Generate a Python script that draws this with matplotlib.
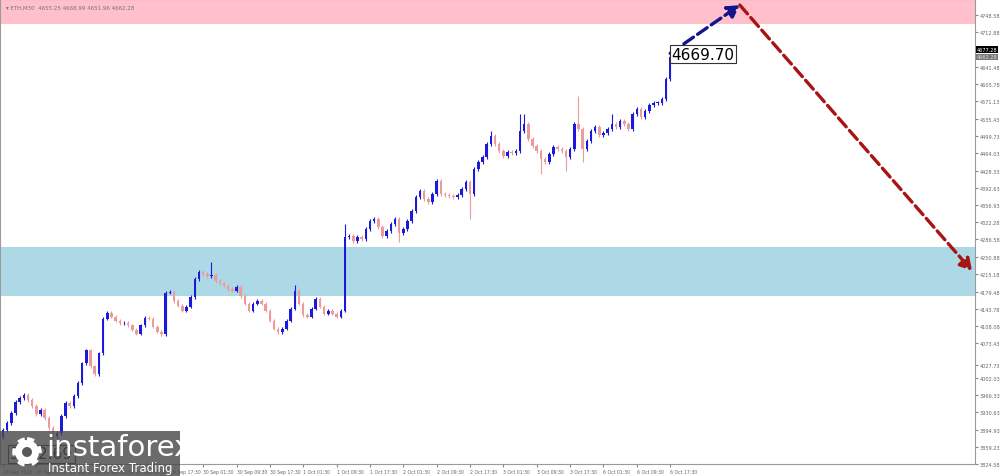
import matplotlib
matplotlib.use('Agg')
from matplotlib import pyplot as plt
from matplotlib.patches import Rectangle, Circle

# ETH M30 chart, hourly-ish closes
closes = [3893.8, 3908.2, 3928.7, 3951.3, 3959.6, 3965.7, 3955.4, 3943.1, 3926.7, 3934.9,
          3918.5, 3897.9, 3881.5, 3887.6, 3922.6, 3949.3, 3943.1, 3963.7, 3990.4, 4031.4,
          4058.2, 4025.3, 4008.9, 4052.0, 4123.9, 4136.3, 4128.0, 4119.8, 4113.7, 4115.7,
          4109.6, 4101.3, 4093.1, 4109.6, 4126.0, 4123.9, 4107.5, 4097.2, 4091.1, 4177.4,
          4179.4, 4160.9, 4150.7, 4140.4, 4148.6, 4169.1, 4206.1, 4220.5, 4216.4, 4212.3,
          4214.3, 4202.0, 4197.9, 4191.8, 4185.6, 4181.5, 4189.7, 4171.2, 4154.8, 4140.4,
          4154.8, 4160.9, 4154.8, 4140.4, 4119.8, 4103.4, 4095.2, 4103.4, 4119.8, 4144.5,
          4181.5, 4154.8, 4132.1, 4128.0, 4144.5, 4165.0, 4148.6, 4134.2, 4140.4, 4134.2,
          4128.0, 4140.4, 4292.4, 4294.5, 4284.2, 4292.4, 4288.3, 4308.9, 4325.3, 4329.4,
          4313.0, 4294.5, 4304.8, 4319.1, 4329.4, 4300.6, 4308.9, 4325.3, 4345.8, 4374.6,
          4387.0, 4370.5, 4364.4, 4380.8, 4407.7, 4380.8, 4378.7, 4376.7, 4374.6, 4378.7,
          4391.0, 4405.4, 4380.8, 4432.1, 4446.5, 4456.8, 4483.5, 4500.0, 4483.5, 4469.1,
          4458.8, 4467.1, 4465.0, 4469.1, 4510.2, 4524.6, 4493.8, 4479.4, 4469.1, 4452.7,
          4446.5, 4463.0, 4477.4, 4473.3, 4469.1, 4456.8, 4473.3, 4524.6, 4514.3, 4473.3,
          4489.7, 4510.2, 4518.4, 4502.0, 4506.1, 4514.3, 4524.6, 4518.4, 4530.8, 4524.6,
          4514.3, 4545.2, 4555.4, 4539.0, 4551.3, 4563.6, 4567.8, 4567.8, 4576.0, 4617.1,
          4662.3]
first_open = 3880.0

# long wicks seen on the chart (bar index: price)
spike_highs = {50: 4241, 70: 4192, 82: 4318, 117: 4510, 124: 4545, 125: 4545,
               138: 4582, 146: 4545, 160: 4672}
spike_lows = {12: 3867, 95: 4282, 112: 4329, 129: 4422, 135: 4428, 139: 4446}

time_labels = ['26 Sep 2025', '26 Sep 09:30', '26 Sep 17:30', '29 Sep 01:30', '29 Sep 09:30',
               '29 Sep 17:30', '30 Sep 01:30', '30 Sep 09:30', '30 Sep 17:30', '1 Oct 01:30',
               '1 Oct 09:30', '1 Oct 17:30', '2 Oct 01:30', '2 Oct 09:30', '2 Oct 17:30',
               '3 Oct 01:30', '3 Oct 09:30', '3 Oct 17:30', '6 Oct 01:30', '6 Oct 09:30',
               '6 Oct 17:30']

price_ticks = [4748.58, 4712.88, 4641.48, 4605.78, 4571.13, 4535.43, 4499.73, 4464.03,
               4428.33, 4392.63, 4356.93, 4322.28, 4286.58, 4250.88, 4215.18, 4179.48,
               4143.78, 4108.08, 4073.43, 4027.73, 4002.03, 3966.33, 3930.63, 3894.93,
               3859.23, 3824.58]

resistance_zone = (4730, 4790)
support_zone = (4171, 4272)
wave_start = (160, 4669.70)
wave_top = (176.7, 4769)
wave_target = (232.4, 4222)
ask_price = 4677.28
bid_price = 4662.28

UP = '#1a1adb'
DOWN = '#ef9a9a'

fig = plt.figure(figsize=(10, 4.77), dpi=100)
ax = fig.add_axes([0, 12/477, 0.975, 465/477])
ax.set_xlim(-0.72, 233.1)
ax.set_ylim(3826.0, 4781.45)

ax.axhspan(resistance_zone[0], resistance_zone[1], color='#ffc0cb', zorder=0, lw=0)
ax.axhspan(support_zone[0], support_zone[1], color='#add8e6', zorder=0, lw=0)

opens = [first_open] + closes[:-1]
for i, (o, c) in enumerate(zip(opens, closes)):
    col = UP if c >= o else DOWN
    hi = spike_highs.get(i, max(o, c) + 4)
    lo = spike_lows.get(i, min(o, c) - 4)
    ax.vlines(i, lo, hi, color=col, lw=0.8, zorder=2)
    h = max(abs(c - o), 1.5)
    ax.bar(i, h, bottom=min(o, c), width=0.6, color=col, lw=0, zorder=3)

# wave forecast arrows
ax.annotate('', xy=wave_top, xytext=wave_start,
            arrowprops=dict(arrowstyle='-|>,head_length=0.7,head_width=0.4', color='#14148c',
                            lw=2.4, linestyle=(0, (3.5, 1.5)), shrinkA=0, shrinkB=0), zorder=5)
ax.annotate('', xy=wave_target, xytext=wave_top,
            arrowprops=dict(arrowstyle='-|>,head_length=0.7,head_width=0.4', color='#a81414',
                            lw=2.4, linestyle=(0, (3.5, 1.5)), shrinkA=0, shrinkB=0), zorder=5)
ax.text(wave_start[0] + 0.3, wave_start[1] - 2, '%.2f' % wave_start[1], fontsize=11,
        va='center', ha='left', zorder=6,
        bbox=dict(boxstyle='square,pad=0.1', fc='white', ec='#333333', lw=0.8))

# axes styling
for s in ax.spines.values():
    s.set_color('#9a9a9a')
    s.set_linewidth(0.8)
ax.yaxis.tick_right()
ax.set_yticks(price_ticks)
ax.set_yticklabels(['%.2f' % p for p in price_ticks])
ax.tick_params(axis='y', labelsize=3.6, labelcolor='#666666', length=2, pad=1.5, color='#888888')
ax.set_xticks([8 * k for k in range(len(time_labels))])
ax.set_xticklabels(time_labels, ha='left')
ax.tick_params(axis='x', labelsize=3.3, labelcolor='#666666', length=2, pad=1.5, color='#888888')

ax.text(1.002, ask_price, '%.2f' % ask_price, transform=ax.get_yaxis_transform(), fontsize=3.6,
        color='white', va='center', ha='left',
        bbox=dict(boxstyle='square,pad=0.15', fc='black', ec='none'))
ax.text(1.002, bid_price, '%.2f' % bid_price, transform=ax.get_yaxis_transform(), fontsize=3.6,
        color='#dddddd', va='center', ha='left',
        bbox=dict(boxstyle='square,pad=0.15', fc='#777777', ec='none'))
ax.text(0.006, 0.988, '\u25be ETH,M30  4655.25 4668.99 4651.96 4662.28', transform=ax.transAxes,
        fontsize=4, color='#777777', va='top', ha='left')

# overlay in pixel coordinates for the low label and the watermark
ov = fig.add_axes([0, 0, 1, 1])
ov.set_xlim(0, 1000)
ov.set_ylim(477, 0)
ov.axis('off')
ov.text(10, 455, '3812.69', fontsize=11, va='center', ha='left', zorder=1,
        bbox=dict(boxstyle='square,pad=0.1', fc='white', ec='#333333', lw=0.8))
ov.add_patch(Rectangle((0, 432), 180, 45, fc='#4a4a4a', alpha=0.82, lw=0, zorder=2))
ov.add_patch(Circle((27, 453), 12, fc='white', ec='white', lw=4, ls=(0, (1.2, 1.2)), zorder=3))
ov.add_patch(Circle((27, 453), 5, fc='#5a5a5a', ec='none', zorder=4))
ov.text(46, 448, 'instaforex', fontsize=21, color='white', va='center', ha='left', zorder=4)
ov.text(48, 469, 'Instant Forex Trading', fontsize=8.5, color='white', va='center', ha='left',
        zorder=4)

fig.savefig('out.png', dpi=100)
